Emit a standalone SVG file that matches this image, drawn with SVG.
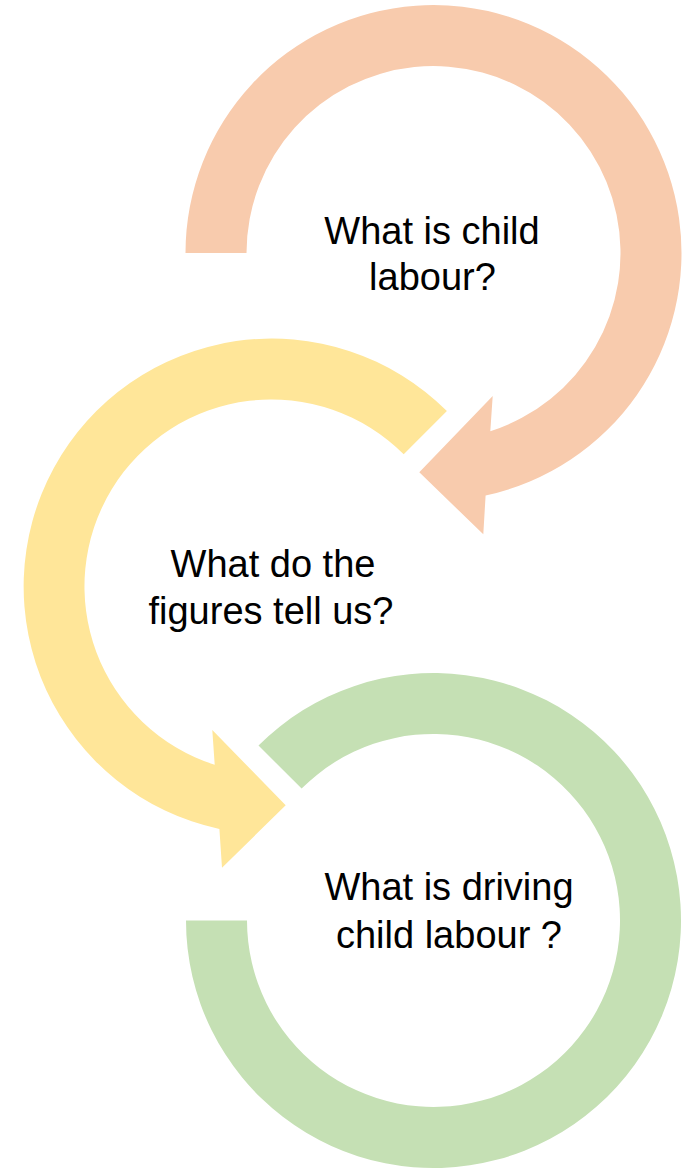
<svg xmlns="http://www.w3.org/2000/svg" width="692" height="1170" viewBox="0 0 692 1170">
  <style>
    .label { font-family: "Liberation Sans", Arial, sans-serif; font-size: 38px; fill: #000000; text-anchor: middle; }
    .orange { fill: #F8CBAD; }
    .yellow { fill: #FFE699; }
    .green { fill: #C5E0B4; }
  </style>
  <rect width="692" height="1170" fill="#FFFFFF"/>

  <!-- Step 3: open ring, no arrowhead -->
  <g id="step-driving">
    <path class="green" d="M258.5,745.5 A247.5,247.5 0 1 1 186,920.5 L247,920.5 A186.5,186.5 0 1 0 301.6,788.6 Z"/>
    <text class="label" x="449" y="900">What is driving</text>
    <text class="label" x="449" y="947.5">child labour ?</text>
  </g>

  <!-- Step 2: counter-clockwise curved arrow -->
  <g id="step-figures">
    <path class="yellow" d="M446.9,411.1 A248,248 0 1 0 219.4,829 L222,867.7 L285.7,805.3 L212.3,730 L214.7,764.7 A187,187 0 1 1 403.7,454.3 Z"/>
    <text class="label" x="273" y="577">What do the</text>
    <text class="label" x="271" y="624">figures tell us?</text>
  </g>

  <!-- Step 1: clockwise curved arrow -->
  <g id="step-definition">
    <path class="orange" d="M185.5,253 A248,248 0 1 1 485.6,495.5 L483.3,534.3 L419.3,472.3 L492.7,396 L490.3,431.2 A187,187 0 1 0 246.5,253 Z"/>
    <text class="label" x="432" y="243.5">What is child</text>
    <text class="label" x="432.5" y="290">labour?</text>
  </g>

  <g id="connectors"/>
</svg>
